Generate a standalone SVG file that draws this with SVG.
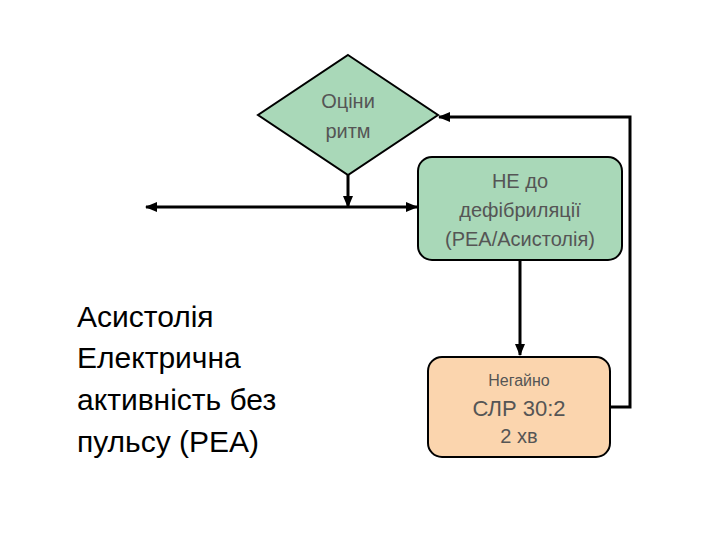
<svg xmlns="http://www.w3.org/2000/svg" width="720" height="540" viewBox="0 0 720 540">
<style>
.n{fill:#a9d8b8;stroke:#000;stroke-width:2}
.o{fill:#fbd5ae;stroke:#000;stroke-width:2}
.t{font-family:"Liberation Sans",Arial,sans-serif;fill:#555;text-anchor:middle}
.c{stroke:#000;stroke-width:3;fill:none}
.l{font-family:"Liberation Sans",Arial,sans-serif;fill:#000;font-size:30px}
</style>
<defs><marker id="a" markerWidth="8" markerHeight="8" refX="7" refY="4" orient="auto" markerUnits="userSpaceOnUse" viewBox="0 0 8 8"><path d="M0,0L8,4L0,8z" fill="#000"/></marker>
<marker id="b" markerWidth="12" markerHeight="10" refX="11" refY="5" orient="auto" markerUnits="userSpaceOnUse"><path d="M0,0L12,5L0,10z" fill="#000"/></marker></defs>
<rect width="720" height="540" fill="#fff"/>
<g id="connectors">
<path class="c" d="M348,175V207" marker-end="url(#b)"/>
<path class="c" d="M348,207H146" marker-end="url(#b)"/>
<path class="c" d="M348,207H417" marker-end="url(#b)"/>
<path class="c" d="M520,260V355" marker-end="url(#b)"/>
<path class="c" d="M610,407H630V117H439" marker-end="url(#b)"/>
</g>
<g id="diamond"><path class="n" d="M348,55L438,115L348,175L258,115Z"/>
<text class="t" font-size="20" x="348" y="108">Оціни</text><text class="t" font-size="20" x="348" y="138">ритм</text></g>
<g id="box1"><rect class="n" x="418" y="157" width="204" height="103" rx="14"/>
<text class="t" font-size="20" x="520" y="188">НЕ до</text><text class="t" font-size="20" x="520" y="217">дефібриляції</text><text class="t" font-size="20" x="520" y="246">(PEA/Асистолія)</text></g>
<g id="box2"><rect class="o" x="428" y="357" width="182" height="100" rx="14"/>
<text class="t" font-size="16" x="519" y="386">Негайно</text><text class="t" font-size="22" x="519" y="416">СЛР 30:2</text><text class="t" font-size="20" x="519" y="443">2 хв</text></g>
<g id="label">
<text class="l" x="77" y="327">Асистолія</text><text class="l" x="77" y="368">Електрична</text><text class="l" x="77" y="410">активність без</text><text class="l" x="77" y="452">пульсу (PEA)</text></g>
</svg>
